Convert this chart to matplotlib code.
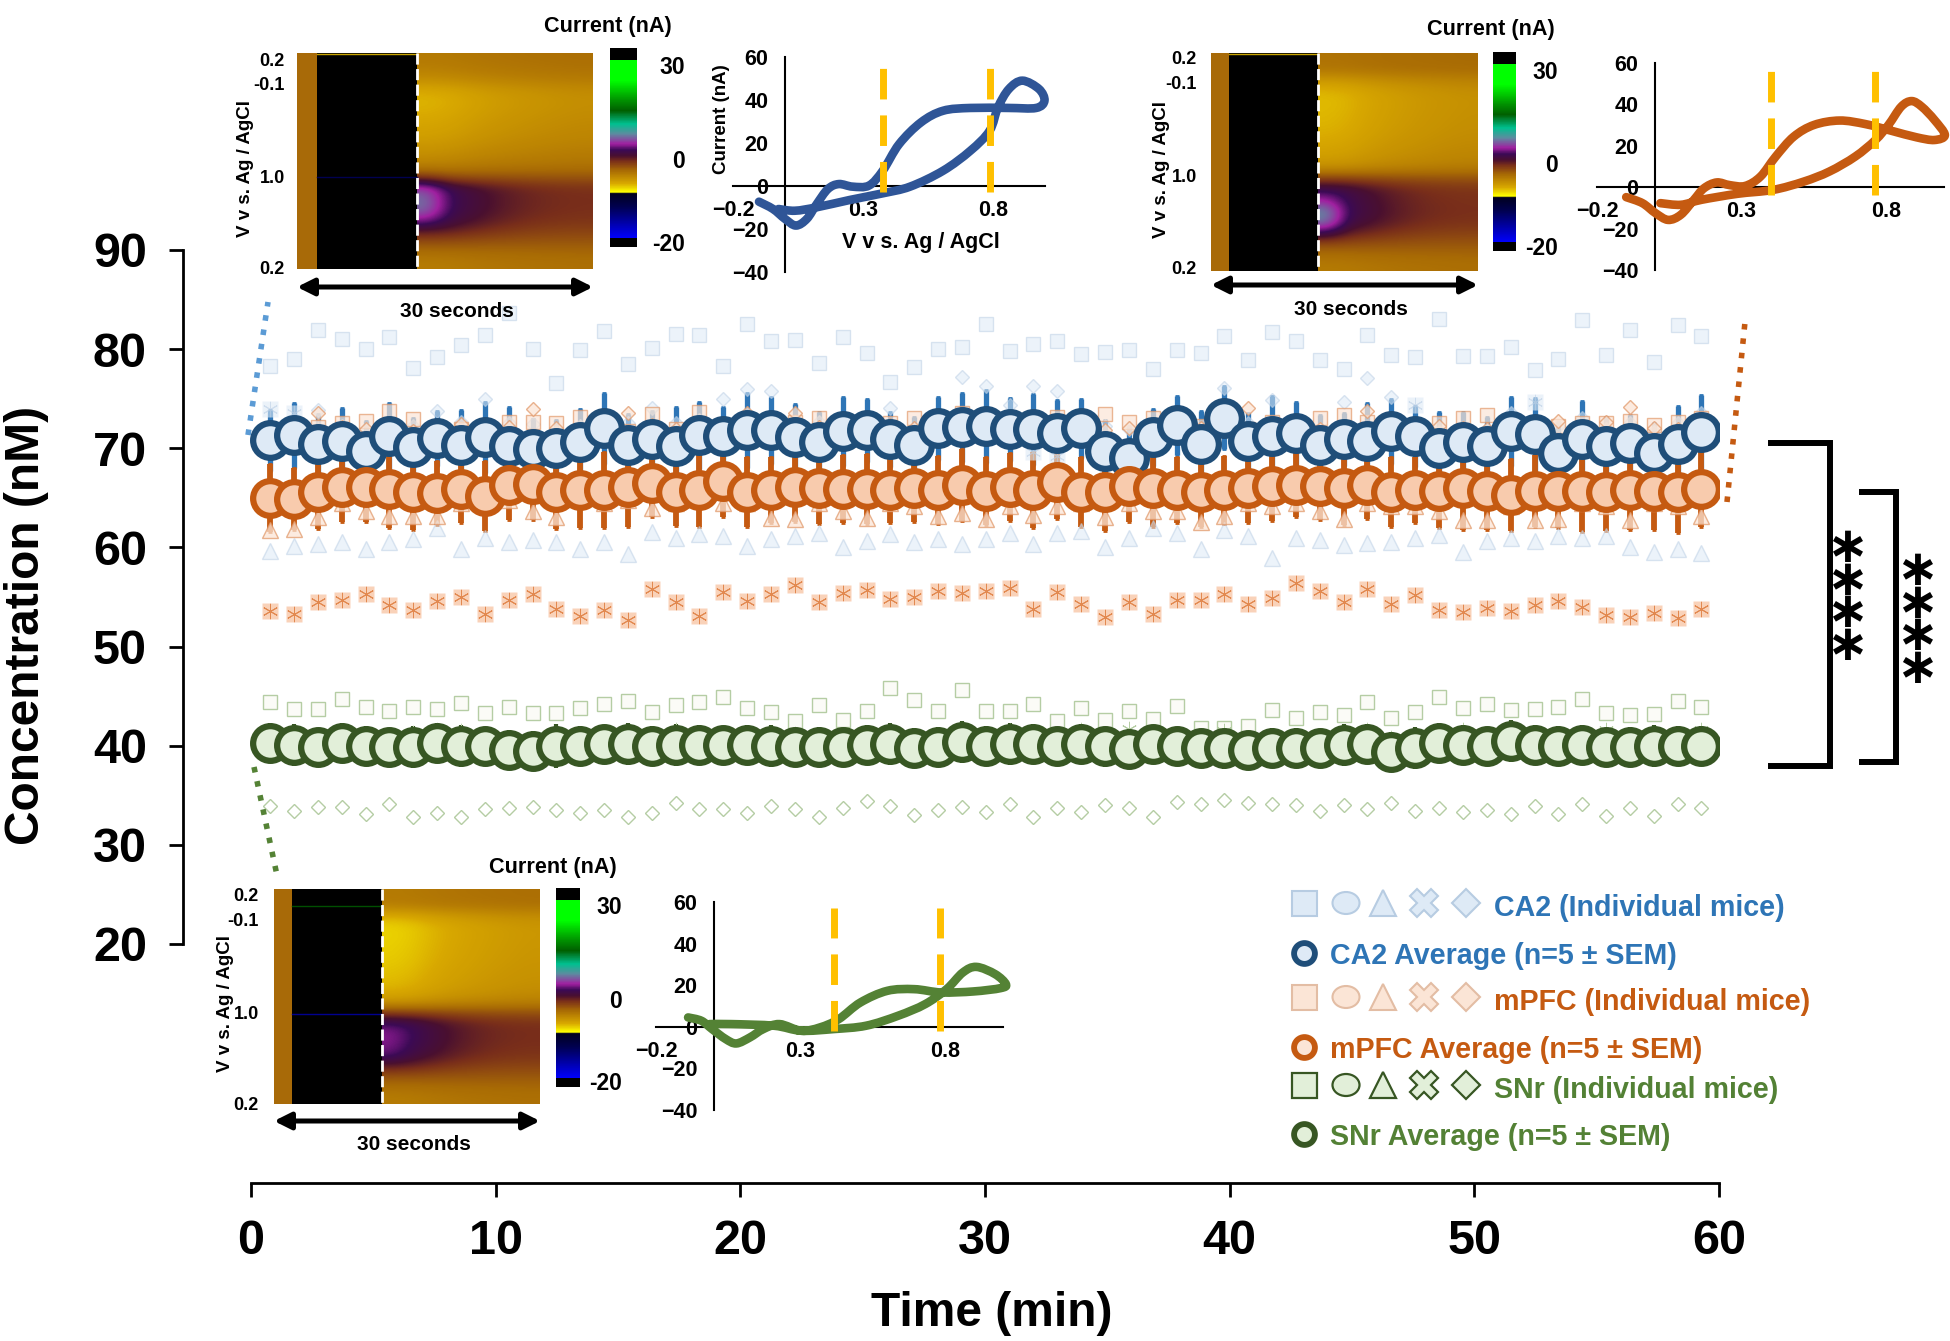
import numpy as np
import matplotlib
matplotlib.use("Agg")
import matplotlib.pyplot as plt
from matplotlib.colors import LinearSegmentedColormap, Normalize
from matplotlib.patches import Rectangle, Ellipse, PathPatch
from matplotlib.path import Path

W, H = 1950, 1341

plt.rcParams['font.family'] = ['Liberation Sans', 'DejaVu Sans']
plt.rcParams['font.weight'] = 'bold'

# Time of each sample (min)
time_min = [0.78, 1.76, 2.73, 3.71, 4.68, 5.66, 6.63, 7.61, 8.58, 9.56, 10.53, 11.51, 12.48, 13.46, 14.43, 15.41,
            16.38, 17.36, 18.33, 19.31, 20.28, 21.26, 22.23, 23.21, 24.18, 25.16, 26.13, 27.11, 28.08, 29.06, 30.03,
            31.01, 31.98, 32.96, 33.93, 34.91, 35.88, 36.86, 37.83, 38.81, 39.78, 40.76, 41.73, 42.71, 43.68, 44.66,
            45.63, 46.61, 47.58, 48.56, 49.53, 50.51, 51.48, 52.46, 53.43, 54.41, 55.38, 56.36, 57.33, 58.31, 59.28]

# Group averages and SEM
ca2_mean = [70.8, 71.3, 70.4, 70.7, 69.7, 71.2, 70.1, 71.0, 70.3, 71.1, 70.2, 69.9, 70.0, 70.6, 72.0, 70.3, 70.9, 70.2,
            71.3, 71.2, 71.8, 71.8, 71.1, 70.6, 71.7, 71.8, 70.9, 70.3, 72.0, 72.1, 72.2, 71.9, 71.9, 71.5, 72.0, 69.7,
            69.0, 71.1, 72.3, 70.4, 73.1, 70.7, 71.2, 71.5, 70.3, 70.9, 70.7, 71.7, 71.2, 70.0, 70.6, 70.2, 71.7, 71.4,
            69.5, 70.9, 70.2, 70.5, 69.5, 70.4, 71.6]
ca2_sem = [3.1, 3.3, 3.1, 3.4, 3.1, 3.4, 3.0, 2.8, 3.6, 3.6, 4.0, 3.1, 2.9, 3.4, 3.6, 3.2, 2.9, 4.0, 3.4, 3.0, 3.8, 3.4,
           3.4, 3.1, 3.5, 3.2, 2.8, 2.9, 3.2, 3.5, 3.7, 3.2, 3.6, 3.4, 3.0, 3.2, 3.2, 2.9, 3.0, 3.4, 3.2, 2.9, 4.1, 3.2,
           3.1, 2.7, 3.9, 3.3, 3.1, 3.7, 3.1, 3.0, 3.5, 3.7, 3.2, 3.9, 3.0, 2.9, 3.0, 3.9, 3.8]
mpfc_mean = [65.0, 64.9, 65.6, 66.1, 66.1, 65.9, 65.6, 65.5, 65.9, 65.2, 66.3, 66.4, 65.6, 65.8, 65.8, 66.1, 66.5, 65.6,
             65.8, 66.7, 65.6, 65.8, 66.1, 66.0, 65.9, 65.9, 65.8, 66.0, 65.8, 66.3, 65.7, 66.1, 65.8, 66.6, 65.6, 65.6,
             66.2, 66.0, 65.8, 65.6, 65.8, 66.0, 66.2, 66.3, 66.2, 66.0, 66.3, 65.6, 65.8, 65.7, 66.0, 65.7, 65.3, 65.7,
             65.7, 65.7, 65.6, 65.8, 65.7, 65.6, 65.9]
mpfc_sem = [3.4, 3.1, 3.7, 3.5, 3.5, 3.9, 3.8, 3.2, 3.4, 3.5, 3.5, 3.6, 3.7, 3.8, 3.8, 4.0, 3.4, 3.4, 3.7, 3.6, 3.5, 3.3,
            3.5, 3.6, 3.4, 3.5, 3.3, 3.4, 3.4, 3.6, 3.4, 3.4, 3.8, 3.7, 3.5, 3.9, 3.6, 3.9, 3.3, 3.5, 3.4, 3.5, 3.5, 3.2,
            3.4, 3.7, 3.4, 3.5, 3.3, 3.7, 4.2, 3.9, 3.6, 3.6, 3.7, 4.1, 3.9, 4.0, 3.9, 4.1, 3.8]
snr_mean = [40.3, 40.1, 39.9, 40.3, 40.0, 39.9, 39.9, 40.3, 40.0, 40.0, 39.6, 39.5, 40.0, 40.0, 40.2, 40.2, 40.0, 40.1,
            40.1, 40.1, 40.1, 40.0, 39.9, 39.9, 39.9, 40.1, 40.2, 39.8, 39.9, 40.4, 40.0, 40.2, 40.2, 40.0, 40.2, 40.0,
            39.7, 40.2, 40.0, 39.8, 39.8, 39.6, 39.8, 39.8, 39.8, 40.1, 40.2, 39.4, 39.8, 40.3, 40.1, 40.0, 40.5, 40.1,
            40.0, 40.1, 39.9, 39.9, 40.0, 40.0, 40.0]
snr_sem = [2.0, 2.1, 1.9, 2.0, 2.0, 1.9, 2.1, 2.0, 2.1, 1.9, 2.0, 2.0, 2.2, 2.0, 1.9, 2.1, 2.0, 2.1, 2.0, 1.9, 2.0, 2.1,
           2.0, 2.0, 1.9, 2.0, 2.1, 2.0, 2.0, 2.1, 2.0, 2.1, 2.0, 1.9, 2.0, 2.1, 2.0, 2.0, 1.9, 2.0, 2.1, 2.0, 2.0, 2.0,
           1.9, 2.1, 2.0, 2.0, 2.1, 2.0, 2.0, 1.9, 2.1, 2.0, 2.0, 2.0, 1.9, 2.0, 2.1, 2.0, 2.0]

# Individual mice: CA2
ca2_square = [78.3, 79.0, 81.9, 81.0, 80.0, 81.2, 78.1, 79.2, 80.4, 81.4, 83.6, 80.0, 76.6, 79.9, 81.8, 78.5, 80.1, 81.5,
              81.4, 78.3, 82.5, 80.8, 80.9, 78.6, 81.2, 79.6, 76.7, 78.2, 80.0, 80.2, 82.5, 79.8, 80.5, 80.8, 79.5, 79.7,
              79.9, 78.0, 79.9, 79.6, 81.3, 78.9, 81.7, 80.8, 78.9, 78.0, 81.4, 79.4, 79.2, 83.0, 79.3, 79.3, 80.2, 77.9,
              79.0, 82.9, 79.4, 81.9, 78.7, 82.4, 81.3]
ca2_triangle = [59.6, 60.1, 60.3, 60.5, 59.8, 60.5, 60.8, 62.0, 59.8, 61.0, 60.5, 60.7, 60.5, 59.8, 60.5, 59.3, 61.6, 61.0,
                61.4, 61.2, 60.1, 60.8, 61.2, 61.5, 60.0, 60.6, 61.4, 60.5, 60.9, 60.3, 60.9, 61.5, 60.3, 61.5, 61.7, 60.0,
                61.0, 62.0, 61.5, 59.8, 61.8, 61.2, 58.9, 61.0, 60.7, 60.2, 60.4, 60.5, 61.0, 61.3, 59.5, 60.6, 61.0, 60.6,
                61.2, 61.0, 61.2, 60.0, 59.5, 59.8, 59.4]
ca2_diamond = [71.9, 72.2, 73.9, 72.2, 71.9, 72.6, 72.2, 73.8, 72.7, 75.0, 72.6, 72.4, 71.6, 72.2, 72.6, 72.6, 74.1, 72.6,
               72.9, 75.0, 76.0, 75.8, 72.7, 72.7, 72.6, 72.7, 74.1, 71.6, 72.6, 77.2, 76.3, 74.4, 76.3, 75.8, 72.6, 72.2,
               71.9, 71.9, 72.6, 71.9, 76.1, 72.6, 74.9, 71.9, 71.9, 74.7, 77.1, 75.2, 72.6, 71.6, 71.9, 71.9, 73.6, 71.9,
               72.2, 73.1, 71.9, 72.6, 71.6, 72.6, 73.6]
ca2_cross = [74.0, 73.6, 72.0, 71.2, 70.5, 71.6, 70.8, 71.9, 70.6, 71.4, 71.0, 70.4, 70.7, 71.5, 72.1, 71.0, 71.3, 70.9,
             71.8, 71.5, 72.0, 72.2, 71.4, 70.8, 71.9, 71.7, 70.9, 70.5, 71.8, 72.1, 71.6, 71.3, 69.6, 69.2, 71.7, 70.4,
             69.9, 71.2, 72.0, 70.8, 72.4, 70.9, 71.3, 71.6, 70.5, 71.1, 70.7, 71.9, 74.4, 70.3, 70.9, 70.5, 71.8, 74.7,
             70.0, 71.0, 70.4, 70.7, 69.9, 70.6, 71.8]

# Individual mice: mPFC
mpfc_square = [71.5, 72.0, 72.1, 72.6, 72.8, 73.8, 73.0, 71.6, 71.9, 71.7, 72.7, 72.7, 72.6, 73.2, 71.9, 71.7, 73.5, 71.9,
               73.7, 72.2, 72.2, 72.2, 72.7, 73.1, 72.2, 72.6, 72.6, 73.1, 72.2, 73.6, 72.2, 72.2, 72.6, 73.2, 72.6, 73.5,
               72.7, 73.1, 72.6, 72.2, 72.6, 71.9, 72.7, 72.7, 73.1, 73.4, 72.7, 72.6, 72.2, 72.6, 73.1, 73.4, 72.6, 72.6,
               72.2, 72.6, 72.6, 72.8, 72.3, 72.7, 73.1]
mpfc_triangle = [61.8, 61.9, 63.1, 64.5, 63.7, 63.2, 63.2, 63.2, 64.5, 65.2, 64.8, 63.7, 63.1, 64.8, 64.5, 64.8, 64.0, 64.5,
                 64.8, 64.5, 64.5, 63.0, 62.9, 64.5, 63.7, 63.0, 64.5, 64.2, 63.2, 63.5, 62.9, 64.2, 63.3, 64.2, 64.5, 63.1,
                 64.5, 63.7, 63.7, 62.6, 63.2, 64.5, 64.2, 64.5, 63.7, 62.9, 64.5, 64.2, 64.2, 63.7, 62.8, 62.8, 64.2, 62.8,
                 62.9, 64.5, 64.2, 62.8, 64.5, 64.2, 63.2]
mpfc_cross = [53.6, 53.3, 54.5, 54.7, 55.3, 54.2, 53.7, 54.6, 55.0, 53.3, 54.7, 55.3, 53.8, 53.1, 53.7, 52.7, 55.8, 54.5,
              53.1, 55.5, 54.6, 55.3, 56.2, 54.5, 55.4, 55.7, 54.8, 55.0, 55.6, 55.4, 55.6, 55.9, 53.8, 55.5, 54.3, 53.0,
              54.5, 53.3, 54.7, 54.7, 55.3, 54.3, 54.9, 56.4, 55.6, 54.5, 55.8, 54.3, 55.2, 53.7, 53.5, 53.9, 53.6, 54.2,
              54.6, 54.0, 53.2, 53.0, 53.4, 52.9, 53.8]
mpfc_diamond = [72.0, 71.8, 73.6, 72.1, 71.9, 72.3, 71.7, 72.0, 72.4, 71.9, 72.1, 74.0, 72.0, 71.8, 72.2, 73.6, 72.3, 71.9,
                72.0, 72.2, 73.6, 71.8, 73.6, 72.1, 72.0, 71.9, 72.3, 72.0, 71.8, 72.2, 72.1, 71.9, 72.0, 72.3, 72.1, 71.8,
                72.0, 72.2, 71.9, 72.0, 71.8, 74.1, 72.2, 72.0, 71.9, 72.1, 73.8, 72.0, 71.8, 72.2, 72.0, 71.9, 72.1, 72.0,
                72.8, 71.9, 72.7, 74.2, 72.0, 71.9, 72.1]

# Individual mice: SNr
snr_square = [44.4, 43.7, 43.7, 44.7, 43.9, 43.5, 43.9, 43.7, 44.3, 43.3, 43.9, 43.3, 43.3, 43.8, 44.2, 44.5, 43.4, 44.1,
              44.4, 44.9, 43.8, 43.4, 42.5, 44.1, 42.6, 43.5, 45.8, 44.6, 43.5, 45.6, 43.5, 43.5, 44.2, 42.5, 43.8, 42.6,
              43.5, 42.7, 44.0, 41.8, 41.8, 42.0, 43.6, 42.8, 43.4, 43.1, 44.4, 42.8, 43.4, 44.9, 43.8, 44.2, 43.6, 43.7,
              43.9, 44.7, 43.3, 43.1, 43.2, 44.5, 43.9]
snr_diamond = [33.9, 33.4, 33.8, 33.8, 33.1, 34.1, 32.8, 33.2, 32.8, 33.6, 33.7, 33.8, 33.5, 33.2, 33.5, 32.8, 33.2, 34.2,
               33.6, 33.6, 33.2, 33.9, 33.6, 32.8, 33.7, 34.4, 33.9, 33.0, 33.5, 33.8, 33.3, 34.1, 32.8, 33.7, 33.3, 34.0,
               33.7, 32.8, 34.3, 34.1, 34.5, 34.2, 34.1, 34.0, 33.4, 34.0, 33.6, 34.2, 33.4, 33.7, 33.3, 33.5, 33.1, 33.9,
               33.1, 34.1, 32.9, 33.7, 32.9, 34.1, 33.7]
snr_cross = [41.0, 40.8, 41.0, 40.9, 40.8, 41.0, 41.3, 41.6, 41.5, 40.9, 40.8, 40.7, 41.2, 41.0, 40.8, 41.2, 41.1, 41.6,
             41.2, 41.1, 41.0, 41.0, 41.2, 41.0, 40.8, 41.1, 41.0, 41.0, 40.8, 41.1, 40.9, 41.5, 40.8, 41.0, 41.6, 40.8,
             41.7, 40.9, 40.8, 41.0, 41.5, 40.8, 41.0, 40.9, 40.8, 41.0, 41.6, 40.8, 41.0, 41.0, 41.6, 40.8, 41.6, 41.0,
             40.8, 40.9, 41.6, 40.8, 41.1, 40.8, 41.6]

# Cyclic voltammograms: (V, nA)
cv_blue_v = [-0.10, -0.046, 0.0, 0.042, 0.084, 0.122, 0.165, 0.207, 0.26, 0.323, 0.376, 0.439, 0.523, 0.608, 0.713, 0.861,
             0.966, 0.998, 0.977, 0.913, 0.861, 0.819, 0.787, 0.713, 0.608, 0.481, 0.376, 0.249, 0.122, 0.038, -0.025]
cv_blue_i = [-7.3, -10.7, -15.3, -18.4, -15.3, -8.4, -1.4, 0.9, -0.3, 0.2, 7.1, 19.5, 29.6, 35.0, 36.3, 36.3,
             36.3, 39.7, 45.1, 49.0, 45.1, 36.6, 25.7, 16.4, 7.1, -0.3, -3.4, -6.5, -9.9, -11.5, -10.7]
cv_orange_v = [-0.099, -0.043, 0.002, 0.046, 0.09, 0.135, 0.17, 0.214, 0.259, 0.312, 0.365, 0.418, 0.48, 0.551, 0.639, 0.728,
               0.817, 0.905, 0.967, 1.003, 0.967, 0.923, 0.888, 0.852, 0.808, 0.763, 0.693, 0.604, 0.515, 0.409, 0.285,
               0.161, 0.09, 0.019]
cv_orange_i = [-4.8, -7.7, -12.5, -15.8, -13.3, -6.1, -0.5, 2.3, 1.0, 0.6, 5.1, 14.8, 24.4, 30.1, 32.2, 30.5,
               27.3, 24.1, 22.8, 25.2, 32.5, 38.9, 41.6, 38.9, 30.1, 22.8, 14.8, 7.6, 2.7, -1.3, -3.2,
               -6.1, -8.5, -7.7]
cv_green_v = [-0.089, -0.043, -0.006, 0.041, 0.078, 0.125, 0.171, 0.227, 0.302, 0.367, 0.432, 0.507, 0.6, 0.693, 0.787, 0.898,
              0.992, 1.01, 0.973, 0.908, 0.861, 0.805, 0.731, 0.637, 0.526, 0.414, 0.302, 0.209, 0.06, -0.015]
cv_green_i = [4.5, 2.9, -1.1, -5.9, -8.0, -5.1, -1.1, 1.3, -1.9, -0.3, 3.7, 11.7, 17.3, 18.1, 16.5, 17.0,
              18.6, 20.5, 25.3, 28.8, 26.1, 18.1, 10.9, 5.3, 0.5, -1.1, -1.9, 0.5, 1.3, 1.3]
cv_yticks = [60, 40, 20, 0, -20, -40]
cv_xticks = [-0.2, 0.3, 0.8]

# Current (nA) along the voltage sweep for the colour plots, top to bottom
heat_blue = [-1.6, -1.9, -2.8, -4.3, -4.6, -4.4, -4.1, -3.8, -3.3, -2.7, -1.8, 0.6, 4.6, 4.9, 4.8, 4.2, 2.6, 0.5, -1.0, -1.7]
heat_orange = [-1.2, -1.3, -3.4, -4.6, -4.8, -4.7, -4.6, -4.4, -4.1, -3.7, -2.8, 1.0, 4.2, 4.6, 4.8, 4.4, 2.8, 0.6, -0.9, -1.6]
heat_green = [-1.6, -1.8, -4.4, -5.4, -5.4, -5.3, -5.2, -5.0, -4.8, -4.4, -3.2, 1.2, 4.7, 5.0, 4.8, 4.2, 2.4, 0.2, -1.1, -1.7]
spike_blue = [0, 0, 0, 0, 0, 0, 0, 0, 0, 0, 0, 1, 3, 4, 4, 2, 0, 0, 0, 0]
spike_orange = [0, 0, 0, 0, 0, 0, 0, 0, 0, 0, 0, 0, 0, 2, 5, 5, 2, 0, 0, 0]
spike_green = [0, 0, 0, 0, 0, 0, 0, 0, 0, 0, 0, 0, 0, 1, 1, 1, 0, 0, 0, 0]
gold_fade = [1.05, 1.0, 0.9, 0.82, 0.76, 0.71, 0.67, 0.64]
dark_fade = [1.15, 1.05, 0.85, 0.68, 0.56, 0.48, 0.44, 0.42]
spike_fade = [0.9, 0, 0, 0, 0, 0, 0, 0]

bar_values = [-23, -20.6, -20.5, -16, -11.3, -7.5, -7.0, -4.5, -0.7, 2.0, 3.5, 5.2, 7.1, 10, 12.9, 16.8, 19.7, 25.6, 31.4, 31.5, 35]
bar_colors = ['#000000', '#000000', '#0000ff', '#0000a8', '#000050', '#000020', '#ffff00', '#d8a800', '#a86a05', '#7a2f1a',
              '#4a1030', '#3c0a55', '#a020a0', '#5e8ca0', '#00c090', '#006000', '#009000', '#00ff00', '#00ff00', '#000000', '#000000']

cmap_pos = [(v - bar_values[0]) / (bar_values[-1] - bar_values[0]) for v in bar_values]
fscv_cmap = LinearSegmentedColormap.from_list('fscv', list(zip(cmap_pos, bar_colors)), N=1024)
fscv_norm = Normalize(bar_values[0], bar_values[-1])

fig = plt.figure(figsize=(W / 100, H / 100), dpi=100, facecolor='white')


def px_axes(left, top, right, bottom, zorder=2):
    # axes placed by its pixel box in the output image
    a = fig.add_axes([left / W, 1 - bottom / H, (right - left) / W, (bottom - top) / H], zorder=zorder)
    a.patch.set_alpha(0)
    return a


# Main axes, the spines are detached from each other
x_scale = (1719 - 251) / 60
y_scale = (944 - 250) / 70
ax = px_axes(183, 250, 1719, 1183, zorder=1)
ax.set_xlim((183 - 251) / x_scale, 60)
ax.set_ylim(20 - (1183 - 944) / y_scale, 90)
for side in ['top', 'right']:
    ax.spines[side].set_visible(False)
ax.spines['left'].set_bounds(20, 90)
ax.spines['bottom'].set_bounds(0, 60)
ax.spines['left'].set_linewidth(2)
ax.spines['bottom'].set_linewidth(2)
ax.set_xticks(range(0, 61, 10))
ax.set_yticks(range(20, 91, 10))
ax.tick_params(axis='both', length=10, width=2, labelsize=35)
ax.tick_params(axis='x', pad=16)
ax.tick_params(axis='y', pad=16)

ax.errorbar(time_min, ca2_mean, yerr=ca2_sem, fmt='none', ecolor='#2e75b6', elinewidth=3.8, capsize=1.5, capthick=2, zorder=2)
ax.errorbar(time_min, mpfc_mean, yerr=mpfc_sem, fmt='none', ecolor='#c55a11', elinewidth=4.2, capsize=1.5, capthick=2, zorder=2.1)
ax.errorbar(time_min, snr_mean, yerr=snr_sem, fmt='none', ecolor='#375623', elinewidth=3, zorder=2.1)


def individual(y, marker, size, face, edge, alpha=1.0, mew=1.0):
    ax.plot(time_min, y, ls='none', marker=marker, ms=size, mfc=face, mec=edge, mew=mew, alpha=alpha, zorder=3)


def crosses(y, face, line, alpha=1.0):
    # filled box with a six spoke star on top
    ax.plot(time_min, y, ls='none', marker='s', ms=11, mfc=face, mec='none', alpha=alpha, zorder=3)
    ax.plot(time_min, y, ls='none', marker=(6, 2, 0), ms=11, mec=line, mew=0.7, alpha=alpha, zorder=3)


individual(ca2_square, 's', 10, '#deeaf6', '#bdd0e6', 0.55)
individual(ca2_triangle, '^', 11, '#deeaf6', '#bdd0e6', 0.55)
individual(ca2_diamond, 'D', 7.5, '#deeaf6', '#bdd0e6', 0.55)
crosses(ca2_cross, '#deeaf6', '#bdd0e6', 0.6)
individual(mpfc_square, 's', 10, '#fbe5d6', '#e29a6c', 0.7)
individual(mpfc_triangle, '^', 11, '#fbe5d6', '#e29a6c', 0.75)
individual(mpfc_diamond, 'D', 7.5, '#fbe5d6', '#e29a6c', 0.75)
crosses(mpfc_cross, '#f8cbad', '#de7c3e', 0.85)
individual(snr_square, 's', 10, '#fbfbf7', '#b5cda4')
individual(snr_diamond, 'D', 7.5, 'white', '#b5cda4')
crosses(snr_cross, 'none', '#b5cda4')

ax.plot(time_min, ca2_mean, ls='none', marker='o', ms=25, mfc='#deeaf6', mec='#1f4e79', mew=4.5, zorder=4)
ax.plot(time_min, mpfc_mean, ls='none', marker='o', ms=25, mfc='#f8cbad', mec='#c55a11', mew=4.5, zorder=4.1)
ax.plot(time_min, snr_mean, ls='none', marker='o', ms=25, mfc='#e2efd9', mec='#375623', mew=4.5, zorder=4.2)

# Overlay in image pixels for everything hand placed on the figure
ov = px_axes(0, 0, W, H, zorder=5)
ov.set_xlim(0, W)
ov.set_ylim(H, 0)
ov.axis('off')

ov.text(27, 625, 'Concentration (nM)', rotation=90, ha='center', va='center', fontsize=34.5)
ov.text(992, 1313, 'Time (min)', ha='center', va='center', fontsize=34.5)

# dotted connectors from the traces to the insets
ov.plot([248, 268], [435, 302], color='#5b9bd5', lw=4, dashes=(1, 1.6))
ov.plot([1727, 1745], [502, 322], color='#c55a11', lw=4, dashes=(1, 1.6))
ov.plot([254, 278], [767, 880], color='#548235', lw=4, dashes=(1, 1.6))

# significance brackets, stars stacked one per line
ov.plot([1771, 1830, 1830, 1771], [443, 443, 766, 766], color='black', lw=4.3, solid_joinstyle='miter')
ov.plot([1862, 1896, 1896, 1862], [492, 492, 762, 762], color='black', lw=4.3, solid_joinstyle='miter')
ov.text(1847, 597, '\u2217\n\u2217\n\u2217\n\u2217', ha='center', va='center', fontsize=36, family='DejaVu Sans', weight='bold', linespacing=0.6)
ov.text(1917, 620, '\u2217\n\u2217\n\u2217\n\u2217', ha='center', va='center', fontsize=36, family='DejaVu Sans', weight='bold', linespacing=0.6)


def colour_plot(box, stim, bar_box, rows, spike, label_x, labels_y, cbar_labels, cbar_right, title_xy, v_label_x, arrow_y, sec_xy, lines):
    left, top, right, bottom = box
    hax = px_axes(left, top, right, bottom)
    hax.set_xlim(0, 1)
    hax.set_ylim(1, 0)
    hax.axis('off')
    x0 = (stim[0] - left) / (right - left)
    x1 = (stim[1] - left) / (right - left)
    r = np.array(rows, dtype=float)[:, None]
    grid = np.where(r > 0, r * np.array(dark_fade)[None, :], r * np.array(gold_fade)[None, :])
    grid = grid + np.outer(spike, spike_fade)
    hax.imshow(grid, extent=[x1, 1, 1, 0], aspect='auto', cmap=fscv_cmap, norm=fscv_norm,
               interpolation='bicubic', interpolation_stage='data')
    hax.add_patch(Rectangle((0, 0), x0, 1, color='#a86a08', lw=0))
    hax.add_patch(Rectangle((x0, 0), x1 - x0, 1, color='black', lw=0))
    for y, c in lines:
        hax.plot([x0, x1], [y, y], color=c, lw=1)
    hax.plot([x1, x1], [0, 1], color='white', lw=2, dashes=(4, 1.6))
    hax.set_xlim(0, 1)
    hax.set_ylim(1, 0)

    bax = px_axes(*bar_box)
    ramp = np.linspace(bar_values[-1], bar_values[0], 512)[:, None]
    bax.imshow(ramp, aspect='auto', cmap=fscv_cmap, norm=fscv_norm, interpolation='nearest')
    bax.axis('off')
    for txt, y in cbar_labels:
        ov.text(cbar_right, y + 2, txt, ha='right', va='center', fontsize=16.5)
    ov.text(title_xy[0], title_xy[1] + 1, 'Current (nA)', ha='center', va='center', fontsize=15.6)
    for txt, y in zip(['0.2', '-0.1', '1.0', '0.2'], labels_y):
        ov.text(label_x, y + 1, txt, ha='right', va='center', fontsize=13)
    ov.text(v_label_x + 2, (top + bottom) / 2 + 7, 'V v s. Ag / AgCl', rotation=90, ha='center', va='center', fontsize=13.5)
    ov.annotate('', xy=(right, arrow_y), xytext=(left, arrow_y),
                arrowprops=dict(arrowstyle='<|-|>', lw=3.6, mutation_scale=25, color='black', shrinkA=0, shrinkB=0))
    ov.text(sec_xy[0], sec_xy[1], '30 seconds', ha='center', va='center', fontsize=15)


def cv_plot(box, v, i, color, peak_v, dash_span, label_pad=12):
    a = px_axes(*box, zorder=3)
    a.set_xlim(-0.2, 1.0)
    a.set_ylim(-40, 60)
    for side in ['top', 'right']:
        a.spines[side].set_visible(False)
    a.spines['left'].set_position(('data', 0))
    a.spines['bottom'].set_position(('data', 0))
    a.spines['left'].set_linewidth(1.5)
    a.spines['bottom'].set_linewidth(1.5)
    a.set_xticks(cv_xticks)
    a.set_yticks(cv_yticks)
    a.tick_params(axis='both', length=0, labelsize=15.5)
    a.tick_params(axis='y', pad=label_pad)
    a.tick_params(axis='x', pad=10)
    # Catmull-Rom to Bezier so the trace runs smooth through the read points
    p = np.column_stack([v, i])
    verts = [p[0]]
    codes = [Path.MOVETO]
    for k in range(len(p) - 1):
        p0 = p[max(k - 1, 0)]
        p1 = p[k]
        p2 = p[k + 1]
        p3 = p[min(k + 2, len(p) - 1)]
        verts += [p1 + (p2 - p0) / 6, p2 - (p3 - p1) / 6, p2]
        codes += [Path.CURVE4] * 3
    a.add_patch(PathPatch(Path(verts, codes), fc='none', ec=color, lw=6.2, capstyle='round', joinstyle='round',
                          clip_on=False, zorder=3))
    for q in peak_v:
        a.plot([q, q], dash_span, color='#ffc000', lw=5, dashes=(4.4, 2.3), zorder=4, clip_on=False)
    return a


colour_plot((297, 53, 593, 269), (317, 417), (610, 48, 637, 247), heat_blue, spike_blue, 285, (60, 84, 177, 268),
            [('30', 65), ('0', 159), ('-20', 242)], 685, (608, 25), 244, 287, (457, 311), [(0.004, '#c9a400'), (0.575, '#000050')])
colour_plot((1211, 53, 1478, 271), (1229, 1318), (1493, 52, 1516, 251), heat_orange, spike_orange, 1197, (58, 83, 176, 268),
            [('30', 70), ('0', 163), ('-20', 246)], 1558, (1491, 28), 1159, 285, (1351, 309), [(0.006, '#c9a400')])
colour_plot((274, 889, 540, 1104), (292, 382), (556, 888, 580, 1087), heat_green, spike_green, 259, (895, 920, 1013, 1104),
            [('30', 905), ('0', 999), ('-20', 1081)], 622, (553, 866), 224, 1121, (414, 1145), [(0.08, '#004f00'), (0.58, '#000090')])

a1 = cv_plot((733, 57, 1045, 272), cv_blue_v, cv_blue_i, '#2f5597', (0.376, 0.787), (-3, 55))
a1.text(-0.245, 31, 'Current (nA)', rotation=90, ha='center', va='center', fontsize=13.5, clip_on=False)
ov.text(921, 242, 'V v s. Ag / AgCl', ha='center', va='center', fontsize=15.5)
cv_plot((1597, 63, 1944, 270), cv_orange_v, cv_orange_i, '#c55a11', (0.40, 0.763), (-4, 57))
cv_plot((656, 902, 1003, 1110), cv_green_v, cv_green_i, '#548235', (0.414, 0.783), (-2, 57))

# Hand built legend, each row: marker columns then label
row_cols = [1304, 1346, 1383, 1424, 1466]
legend_rows = [(903, 953, '#deeaf6', '#b7cce2', '#1f4e79', '#2e75b6', 1.5, 'CA2'),
               (997, 1047, '#fbe5d6', '#e3bda4', '#c55a11', '#c55a11', 1.5, 'mPFC'),
               (1085, 1134, '#e2efd9', '#375623', '#375623', '#538135', 1.6, 'SNr')]
for y_ind, y_avg, face, edge, ring, text_c, lw, name in legend_rows:
    ov.plot(row_cols[0], y_ind, marker='s', ms=18, mfc=face, mec=edge, mew=lw, ls='none')
    ov.add_patch(Ellipse((row_cols[1], y_ind), 27, 22, fc=face, ec=edge, lw=lw))
    ov.plot(row_cols[2], y_ind, marker='^', ms=19, mfc=face, mec=edge, mew=lw, ls='none')
    ov.plot(row_cols[3], y_ind, marker='X', ms=20, mfc=face, mec=edge, mew=lw, ls='none')
    ov.plot(row_cols[4], y_ind, marker='D', ms=14, mfc=face, mec=edge, mew=lw, ls='none')
    ov.text(1494, y_ind + 5, name + ' (Individual mice)', color=text_c, ha='left', va='center', fontsize=20.6)
    ov.plot(row_cols[0], y_avg, marker='o', ms=15, mfc=face, mec=ring, mew=4.2, ls='none')
    ov.text(1330, y_avg + 3, name + ' Average (n=5 ± SEM)', color=text_c, ha='left', va='center', fontsize=20.6)

fig.savefig('out.png', dpi=100)
